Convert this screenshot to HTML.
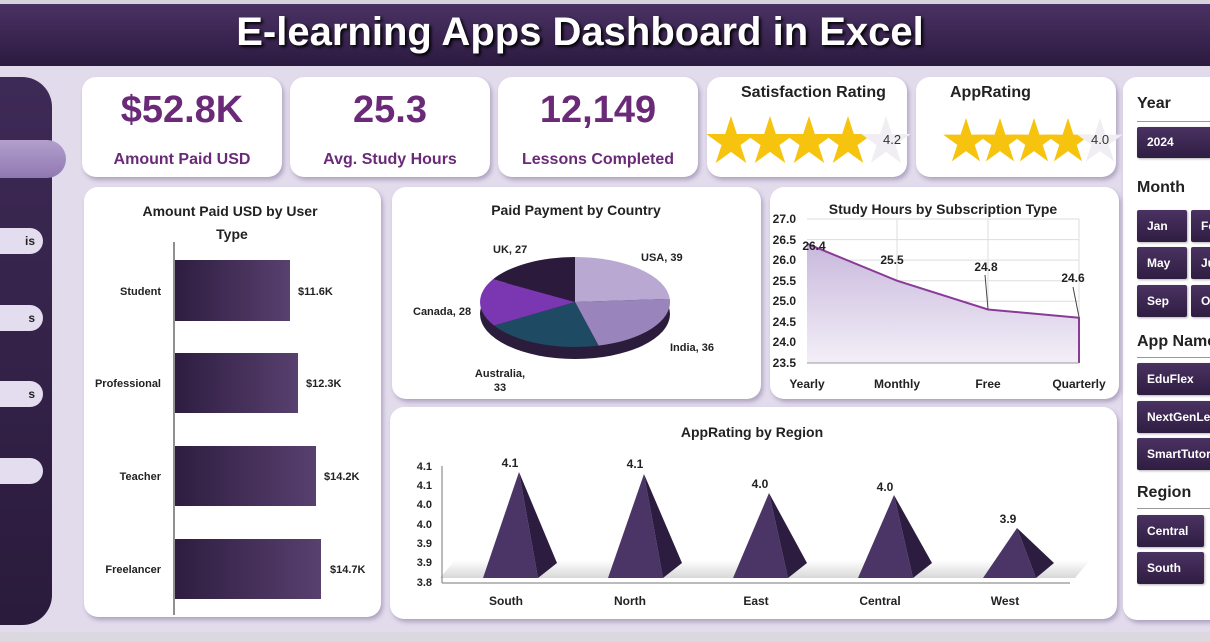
<!DOCTYPE html>
<html><head><meta charset="utf-8"><style>
*{margin:0;padding:0;box-sizing:border-box}
body{width:1210px;height:642px;overflow:hidden;background:#e2dbec;font-family:"Liberation Sans",sans-serif;position:relative}
.a{position:absolute}
.card{position:absolute;background:#fff;border-radius:14px;box-shadow:2px 3px 4px rgba(80,60,110,.35)}
.kv{position:absolute;width:100%;text-align:center;color:#6a2a78;font-weight:bold}
.btn{position:absolute;background:linear-gradient(#4a3262,#2f1d42);color:#fff;font-size:12px;font-weight:bold;padding-left:10px;line-height:32px;border-radius:2px;box-shadow:1px 1px 2px rgba(0,0,0,.3);white-space:nowrap;overflow:hidden}
.h{position:absolute;font-weight:bold;font-size:16px;color:#222;white-space:nowrap}
.pill{position:absolute;left:0;width:43px;height:26px;background:#e4ddef;border-radius:0 13px 13px 0;font-size:12px;font-weight:bold;line-height:26px;text-align:right;padding-right:8px;color:#222}
</style></head><body>
<div class="a" style="left:0;top:0;width:1210px;height:4px;background:#d8d4dc"></div>
<div class="a" style="left:0;top:4px;width:1210px;height:62px;background:linear-gradient(#4a3264,#2c1a40)"></div>
<div class="a" style="left:0;top:10px;width:1160px;text-align:center;color:#fff;font-size:40px;font-weight:bold;text-shadow:2px 2px 3px #000;white-space:nowrap">E-learning Apps Dashboard in Excel</div>
<div class="a" style="left:0;top:77px;width:52px;height:548px;background:linear-gradient(#3e2a56,#2a1a3b);border-radius:0 30px 30px 0"></div>
<div class="a" style="left:0;top:140px;width:66px;height:38px;background:linear-gradient(#b3a0cd,#8f78b1);border-radius:0 19px 19px 0"></div>
<div class="pill" style="top:228px">is</div>
<div class="pill" style="top:305px">s</div>
<div class="pill" style="top:381px">s</div>
<div class="pill" style="top:458px"></div>

<div class="card" style="left:82px;top:77px;width:200px;height:100px"><div class="kv" style="top:12px;font-size:38px">$52.8K</div><div class="kv" style="top:74px;font-size:16px">Amount Paid USD</div></div>
<div class="card" style="left:290px;top:77px;width:200px;height:100px"><div class="kv" style="top:12px;font-size:38px">25.3</div><div class="kv" style="top:74px;font-size:16px">Avg. Study Hours</div></div>
<div class="card" style="left:498px;top:77px;width:200px;height:100px"><div class="kv" style="top:12px;font-size:38px">12,149</div><div class="kv" style="top:74px;font-size:16px">Lessons Completed</div></div>
<div class="card" style="left:707px;top:77px;width:200px;height:100px"><div class="a" style="left:34px;top:7px;font-size:16px;font-weight:bold;color:#222">Satisfaction Rating</div></div>
<div class="card" style="left:916px;top:77px;width:200px;height:100px"><div class="a" style="left:34px;top:7px;font-size:16px;font-weight:bold;color:#222">AppRating</div></div>

<div class="card" style="left:1123px;top:77px;width:100px;height:543px"></div>
<div class="h" style="left:1137px;top:95px">Year</div><div class="a" style="left:1137px;top:121px;width:80px;height:1px;background:#999"></div>
<div class="btn" style="left:1137px;top:127px;width:80px;height:31px;line-height:31px">2024</div>
<div class="h" style="left:1137px;top:179px">Month</div>
<div class="btn" style="left:1137px;top:210px;width:50px">Jan</div><div class="btn" style="left:1191px;top:210px;width:30px">Fe</div>
<div class="btn" style="left:1137px;top:247px;width:50px">May</div><div class="btn" style="left:1191px;top:247px;width:30px">Ju</div>
<div class="btn" style="left:1137px;top:285px;width:50px">Sep</div><div class="btn" style="left:1191px;top:285px;width:30px">O</div>
<div class="h" style="left:1137px;top:333px">App Name</div><div class="a" style="left:1137px;top:357px;width:80px;height:1px;background:#999"></div>
<div class="btn" style="left:1137px;top:363px;width:80px">EduFlex</div>
<div class="btn" style="left:1137px;top:401px;width:80px">NextGenLearn</div>
<div class="btn" style="left:1137px;top:438px;width:80px">SmartTutor</div>
<div class="h" style="left:1137px;top:484px">Region</div><div class="a" style="left:1137px;top:508px;width:80px;height:1px;background:#999"></div>
<div class="btn" style="left:1137px;top:515px;width:67px">Central</div><div class="btn" style="left:1208px;top:515px;width:10px"></div>
<div class="btn" style="left:1137px;top:552px;width:67px">South</div><div class="btn" style="left:1208px;top:552px;width:10px"></div>

<div class="card" style="left:84px;top:187px;width:297px;height:430px"></div>
<div class="card" style="left:392px;top:187px;width:369px;height:212px"></div>
<div class="card" style="left:770px;top:187px;width:349px;height:212px"></div>
<div class="card" style="left:390px;top:407px;width:727px;height:212px"></div>

<svg class="a" style="left:0;top:0" width="1210" height="642" font-family="Liberation Sans,sans-serif">
<defs>
<linearGradient id="bar" x1="0" x2="1"><stop offset="0" stop-color="#2e1d40"/><stop offset="1" stop-color="#58406f"/></linearGradient>
<linearGradient id="ar" x1="0" y1="0" x2="0" y2="1"><stop offset="0" stop-color="#c8b8dc"/><stop offset="1" stop-color="#f3eff8"/></linearGradient>
<linearGradient id="fl" x1="0" y1="0" x2="0" y2="1"><stop offset="0" stop-color="#fff"/><stop offset="1" stop-color="#d8d8d8"/></linearGradient>
<polygon id="st" points="0,-1 0.225,-0.309 0.951,-0.309 0.363,0.118 0.588,0.809 0,0.382 -0.588,0.809 -0.363,0.118 -0.951,-0.309 -0.225,-0.309"/>
</defs>
<!-- stars -->
<g fill="#f6c40f">
<use href="#st" transform="translate(731,142) scale(26)"/><use href="#st" transform="translate(770,142) scale(26)"/><use href="#st" transform="translate(809,142) scale(26)"/><use href="#st" transform="translate(848,142) scale(26)"/>
<use href="#st" transform="translate(966,142) scale(24)"/><use href="#st" transform="translate(1000,142) scale(24)"/><use href="#st" transform="translate(1034,142) scale(24)"/><use href="#st" transform="translate(1068,142) scale(24)"/>
</g>
<g fill="#f0eef2"><use href="#st" transform="translate(886,142) scale(26)"/><use href="#st" transform="translate(1100,142) scale(24)"/></g>
<text x="883" y="144" font-size="13" fill="#333">4.2</text><text x="1091" y="144" font-size="13" fill="#333">4.0</text>
<!-- bar chart -->
<text x="230" y="216" text-anchor="middle" font-size="14" font-weight="bold" fill="#222">Amount Paid USD by User</text>
<text x="232" y="239" text-anchor="middle" font-size="14" font-weight="bold" fill="#222">Type</text>
<line x1="174" y1="242" x2="174" y2="615" stroke="#222"/>
<g font-size="11" font-weight="bold" fill="#222">
<rect x="175" y="260" width="115" height="61" fill="url(#bar)"/><text x="161" y="295" text-anchor="end">Student</text><text x="298" y="295">$11.6K</text>
<rect x="175" y="353" width="123" height="60" fill="url(#bar)"/><text x="161" y="387" text-anchor="end">Professional</text><text x="306" y="387">$12.3K</text>
<rect x="175" y="446" width="141" height="60" fill="url(#bar)"/><text x="161" y="480" text-anchor="end">Teacher</text><text x="324" y="480">$14.2K</text>
<rect x="175" y="539" width="146" height="60" fill="url(#bar)"/><text x="161" y="573" text-anchor="end">Freelancer</text><text x="330" y="573">$14.7K</text>
</g>
<!-- pie -->
<text x="576" y="215" text-anchor="middle" font-size="14" font-weight="bold" fill="#222">Paid Payment by Country</text>
<ellipse cx="575" cy="314" rx="95" ry="45" fill="#2a1c3a"/>
<path d="M575 302 L575 257 A95 45 0 0 1 669.8 298.9Z" fill="#b9a8d2"/>
<path d="M575 302 L669.8 298.9 A95 45 0 0 1 598.6 345.6Z" fill="#9a84bc"/>
<path d="M575 302 L598.6 345.6 A95 45 0 0 1 494 325.5Z" fill="#1e4a63"/>
<path d="M575 302 L494 325.5 A95 45 0 0 1 493 279.3Z" fill="#7b36b2"/>
<path d="M575 302 L493 279.3 A95 45 0 0 1 575 257Z" fill="#2b1a3c"/>
<g font-size="11" font-weight="bold" fill="#222">
<text x="641" y="261">USA, 39</text><text x="670" y="351">India, 36</text>
<text x="500" y="377" text-anchor="middle">Australia,</text><text x="500" y="391" text-anchor="middle">33</text>
<text x="413" y="315">Canada, 28</text><text x="493" y="253">UK, 27</text></g>
<!-- line chart -->
<text x="943" y="214" text-anchor="middle" font-size="14" font-weight="bold" fill="#222">Study Hours by Subscription Type</text>
<g stroke="#ddd"><line x1="807" y1="219" x2="1079" y2="219"/><line x1="807" y1="239.6" x2="1079" y2="239.6"/><line x1="807" y1="260.1" x2="1079" y2="260.1"/><line x1="807" y1="280.7" x2="1079" y2="280.7"/><line x1="807" y1="301.3" x2="1079" y2="301.3"/><line x1="807" y1="321.9" x2="1079" y2="321.9"/><line x1="807" y1="342.4" x2="1079" y2="342.4"/>
<line x1="897" y1="219" x2="897" y2="363"/><line x1="988" y1="219" x2="988" y2="363"/><line x1="1079" y1="219" x2="1079" y2="363"/></g>
<path d="M807 243.7 L897 280.7 L988 309.5 L1079 317.7 L1079 363 L807 363Z" fill="url(#ar)"/>
<polyline points="807,243.7 897,280.7 988,309.5 1079,317.7" fill="none" stroke="#8a3a98" stroke-width="2"/>
<line x1="1079" y1="317" x2="1079" y2="363" stroke="#8a3a98" stroke-width="2"/>
<line x1="807" y1="363" x2="1079" y2="363" stroke="#999"/>
<g font-size="12" font-weight="bold" fill="#222" text-anchor="end"><text x="796" y="223">27.0</text><text x="796" y="244">26.5</text><text x="796" y="264">26.0</text><text x="796" y="285">25.5</text><text x="796" y="305">25.0</text><text x="796" y="326">24.5</text><text x="796" y="346">24.0</text><text x="796" y="367">23.5</text></g>
<g font-size="12" font-weight="bold" fill="#222" text-anchor="middle"><text x="814" y="250">26.4</text><text x="892" y="264">25.5</text><text x="986" y="271">24.8</text><text x="1073" y="282">24.6</text>
<text x="807" y="388">Yearly</text><text x="897" y="388">Monthly</text><text x="988" y="388">Free</text><text x="1079" y="388">Quarterly</text></g>
<g stroke="#444"><line x1="985" y1="275" x2="988" y2="309"/><line x1="1073" y1="287" x2="1079" y2="317"/></g>
<!-- pyramid chart -->
<text x="752" y="437" text-anchor="middle" font-size="14" font-weight="bold" fill="#222">AppRating by Region</text>
<path d="M455 560 L1090 560 L1075 578 L440 578Z" fill="url(#fl)"/>
<line x1="442" y1="583" x2="1070" y2="583" stroke="#777"/>
<line x1="442" y1="466" x2="442" y2="583" stroke="#777"/>
<g font-size="11" font-weight="bold" fill="#222" text-anchor="end"><text x="432" y="470">4.1</text><text x="432" y="489">4.1</text><text x="432" y="508">4.0</text><text x="432" y="528">4.0</text><text x="432" y="547">3.9</text><text x="432" y="566">3.9</text><text x="432" y="586">3.8</text></g>
<g>
<path d="M519 472 L483 578 L538 578Z" fill="#4a3566"/><path d="M519 472 L538 578 L557 563Z" fill="#2c1d40"/>
<path d="M644 474 L608 578 L663 578Z" fill="#4a3566"/><path d="M644 474 L663 578 L682 563Z" fill="#2c1d40"/>
<path d="M769 493 L733 578 L788 578Z" fill="#4a3566"/><path d="M769 493 L788 578 L807 563Z" fill="#2c1d40"/>
<path d="M894 495 L858 578 L913 578Z" fill="#4a3566"/><path d="M894 495 L913 578 L932 563Z" fill="#2c1d40"/>
<path d="M1017 528 L983 578 L1036 578Z" fill="#4a3566"/><path d="M1017 528 L1036 578 L1054 563Z" fill="#2c1d40"/>
</g>
<g font-size="12" font-weight="bold" fill="#222" text-anchor="middle"><text x="510" y="467">4.1</text><text x="635" y="468">4.1</text><text x="760" y="488">4.0</text><text x="885" y="491">4.0</text><text x="1008" y="523">3.9</text>
<text x="506" y="605">South</text><text x="630" y="605">North</text><text x="756" y="605">East</text><text x="880" y="605">Central</text><text x="1005" y="605">West</text></g>
</svg>
<div class="a" style="left:0;top:632px;width:1210px;height:10px;background:#dcd8e0"></div>
</body></html>
